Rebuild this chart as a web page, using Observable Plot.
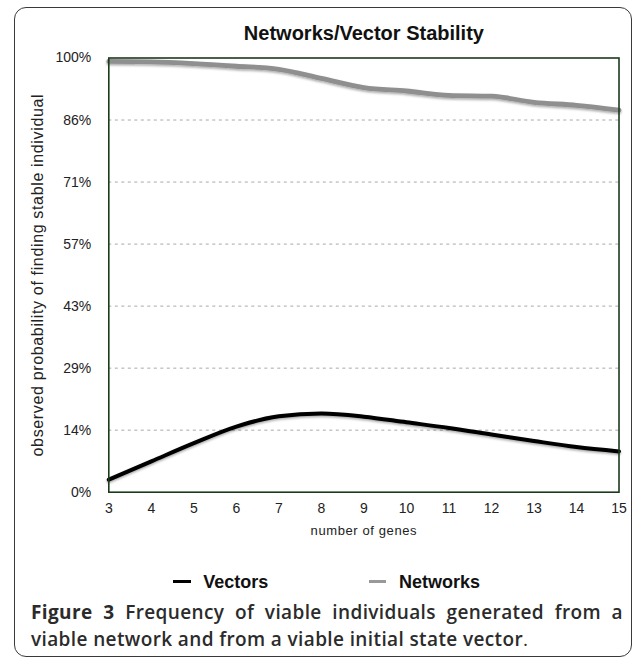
<!DOCTYPE html>
<html>
<head>
<meta charset="utf-8">
<script src="https://cdn.jsdelivr.net/npm/d3@7"></script>
<script src="https://cdn.jsdelivr.net/npm/@observablehq/plot@0.6"></script>
<style>
  html, body { margin: 0; padding: 0; background: #fff; }
  body { width: 633px; height: 657px; position: relative; overflow: hidden; }
  #box { position: absolute; left: 13.5px; top: 6.5px; width: 618px; height: 650px; box-sizing: border-box;
         border: 1.5px solid #3a3a3a; border-radius: 12px; }
  #chart { position: absolute; left: 0; top: 0; }
  .leg { position: absolute; font: bold 18px/18px 'Liberation Sans', Arial, sans-serif; color: #111; top: 573px; }
  .sw { position: absolute; height: 3px; }
  #caption { position: absolute; left: 31px; top: 599.3px; width: 592px; font-family: 'Open Sans', 'Noto Sans', sans-serif;
             font-size: 19px; line-height: 26.7px; font-weight: 600; color: #2b2b2b; letter-spacing: 0.38px; }
  #caption .l1 { text-align: justify; text-align-last: justify; }
  #caption b { font-weight: 700; }
</style>
</head>
<body>
<div id="box"></div>
<div id="chart"></div>
<div class="sw" style="left:172.7px; top:579.5px; width:18px; background:#000;"></div>
<div class="leg" style="left:203.3px;">Vectors</div>
<div class="sw" style="left:369px; top:580.2px; width:17px; background:#999;"></div>
<div class="leg" style="left:399px;">Networks</div>
<div id="caption">
  <div class="l1"><b>Figure 3</b> Frequency of viable individuals generated from a</div>
  <div class="l2">viable network and from a viable initial state vector<span style="font-weight:400">.</span></div>
</div>
<script>
// ---- data ----
const genes = [3, 4, 5, 6, 7, 8, 9, 10, 11, 12, 13, 14, 15];
const vectors = [0.029, 0.071, 0.113, 0.151, 0.175, 0.181, 0.174, 0.161, 0.148, 0.133, 0.118, 0.104, 0.094];
const networks = [0.992, 0.991, 0.987, 0.981, 0.974, 0.953, 0.932, 0.924, 0.914, 0.912, 0.898, 0.891, 0.880];
const yTicks = [0, 1/7, 2/7, 3/7, 4/7, 5/7, 6/7, 1];
const yTickLabels = ["0%", "14%", "29%", "43%", "57%", "71%", "86%", "100%"];
const gridValues = [1/7, 2/7, 3/7, 4/7, 5/7, 6/7];
const title = "Networks/Vector Stability";
const xLabel = "number of genes";
const yLabel = "observed probability of finding stable individual";

const table = genes.map((g, i) => ({genes: g, vectors: vectors[i], networks: networks[i]}));
const FONT = "'Liberation Sans', Arial, sans-serif";

const chart = Plot.plot({
  width: 633,
  height: 545,
  marginTop: 57.5,
  marginLeft: 108.3,
  marginRight: 14.5,
  marginBottom: 53.3,
  style: {fontFamily: FONT, fontSize: "14px", color: "#222", background: "transparent"},
  x: {domain: [3, 15]},
  y: {domain: [0, 1]},
  marks: [
    Plot.ruleY(gridValues, {stroke: "#a8a8a8", strokeWidth: 1, strokeDasharray: "3,3.5"}),
    Plot.axisX({ticks: genes, tickFormat: d => String(d), tickSize: 0, tickPadding: 11, label: null,
                fontSize: 14, fontFamily: FONT, fill: "#222"}),
    Plot.axisY({ticks: yTicks, tickFormat: d => yTickLabels[yTicks.indexOf(d)], tickSize: 0, tickPadding: 17.5, label: null,
                fontSize: 14, fontFamily: FONT, fill: "#222"}),
    Plot.line(table, {x: "genes", y: "networks", stroke: "#8f8f8f", strokeWidth: 4.8, curve: "monotone-x"}),
    Plot.line(table, {x: "genes", y: "vectors", stroke: "#000", strokeWidth: 4, curve: "monotone-x"}),
    Plot.frame({stroke: "#1c3a1c", strokeWidth: 1.6}),
    Plot.text([title], {frameAnchor: "top", lineAnchor: "bottom", dy: -18.5, fontSize: 20, fontWeight: "bold", fill: "#111", fontFamily: FONT}),
    Plot.text([xLabel], {frameAnchor: "bottom", textAnchor: "middle", lineAnchor: "middle", dy: 38.4, fontSize: 13, fill: "#222", fontFamily: FONT}),
    Plot.text([yLabel], {frameAnchor: "left", textAnchor: "middle", lineAnchor: "middle", rotate: -90, dx: -70.8, fontSize: 16, fill: "#222", fontFamily: FONT})
  ]
});
document.getElementById("chart").appendChild(chart);

const svg = d3.select(chart);
// soft drop shadow under the two series lines
const defs = svg.insert("defs", ":first-child");
defs.append("filter").attr("id", "lineShadow").attr("x", "-5%").attr("y", "-20%").attr("width", "110%").attr("height", "140%")
  .append("feDropShadow").attr("dx", 0).attr("dy", 1.5).attr("stdDeviation", 1.2).attr("flood-color", "#000").attr("flood-opacity", 0.35);
svg.selectAll('g[aria-label="line"]').attr("filter", "url(#lineShadow)");
// tick label font
svg.selectAll('g[aria-label$="tick label"]').style("font-size", "14px").style("font-family", FONT);
// letter spacing to match the reference text lengths
svg.selectAll("text").each(function() {
  const t = this.textContent;
  if (t === xLabel) this.setAttribute("letter-spacing", "0.6px");
  if (t === yLabel) this.setAttribute("letter-spacing", "0.65px");
});
</script>
</body>
</html>
